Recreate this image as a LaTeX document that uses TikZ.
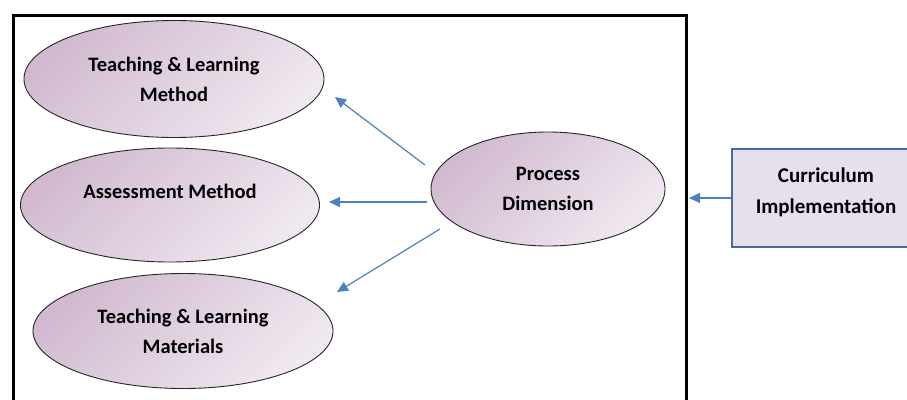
\documentclass[tikz,border=0pt]{standalone}
\usepackage{fontspec}
\setmainfont{Carlito}
\usetikzlibrary{shapes.geometric,arrows.meta}
\definecolor{ellA}{HTML}{D1BAD0}
\definecolor{ellB}{HTML}{F0E8F0}
\definecolor{arrblue}{HTML}{4F81BD}
\definecolor{boxfill}{HTML}{E6E0EC}
\definecolor{boxline}{HTML}{4A6A9F}
\tikzset{
  ell/.style={ellipse, draw=black!85, line width=0.9pt, top color=ellA, bottom color=ellB, shading angle=45,
    inner sep=0pt, align=center, font=\bfseries\fontsize{20.5}{30}\selectfont},
  curbox/.style={rectangle, draw=boxline, line width=1.8pt, fill=boxfill, inner sep=0pt,
    align=center, font=\bfseries\fontsize{21}{31}\selectfont},
  arr/.style={draw=arrblue, line width=1.2pt, -{Triangle[length=11pt,width=10pt,fill=arrblue]}}
}
\begin{document}
\begin{tikzpicture}[x=1pt,y=-1pt]
\useasboundingbox (0,0) rectangle (907,399);
\clip (0,0) rectangle (907,399);
\fill[white] (0,0) rectangle (907,399);
\draw[line width=3pt] (13,15) rectangle (686,430);
\node[ell, minimum width=300pt, minimum height=117pt] (tlm) at (174,79) {Teaching \& Learning\\Method};
\node[ell, minimum width=299pt, minimum height=114pt, text depth=27pt] (am) at (170,205) {Assessment Method};
\node[ell, minimum width=300pt, minimum height=115pt] (tlmat) at (183,331) {Teaching \& Learning\\Materials};
\node[ell, minimum width=234pt, minimum height=114pt] (pd) at (548,189) {Process\\Dimension};
\node[curbox, minimum width=188pt, minimum height=98pt, text depth=15pt] (ci) at (826,198) {Curriculum\\Implementation};
\coordinate (a1s) at (425,165);
\coordinate (a1e) at (335,97);
\coordinate (a2s) at (427,202);
\coordinate (a2e) at (329,202);
\coordinate (a3s) at (440,229);
\coordinate (a3e) at (337,292);
\coordinate (a4e) at (689,198);
\draw[arr] (a1s) -- (a1e);
\draw[arr] (a2s) -- (a2e);
\draw[arr] (a3s) -- (a3e);
\draw[arr] (ci.west) -- (a4e);
\end{tikzpicture}
\end{document}
